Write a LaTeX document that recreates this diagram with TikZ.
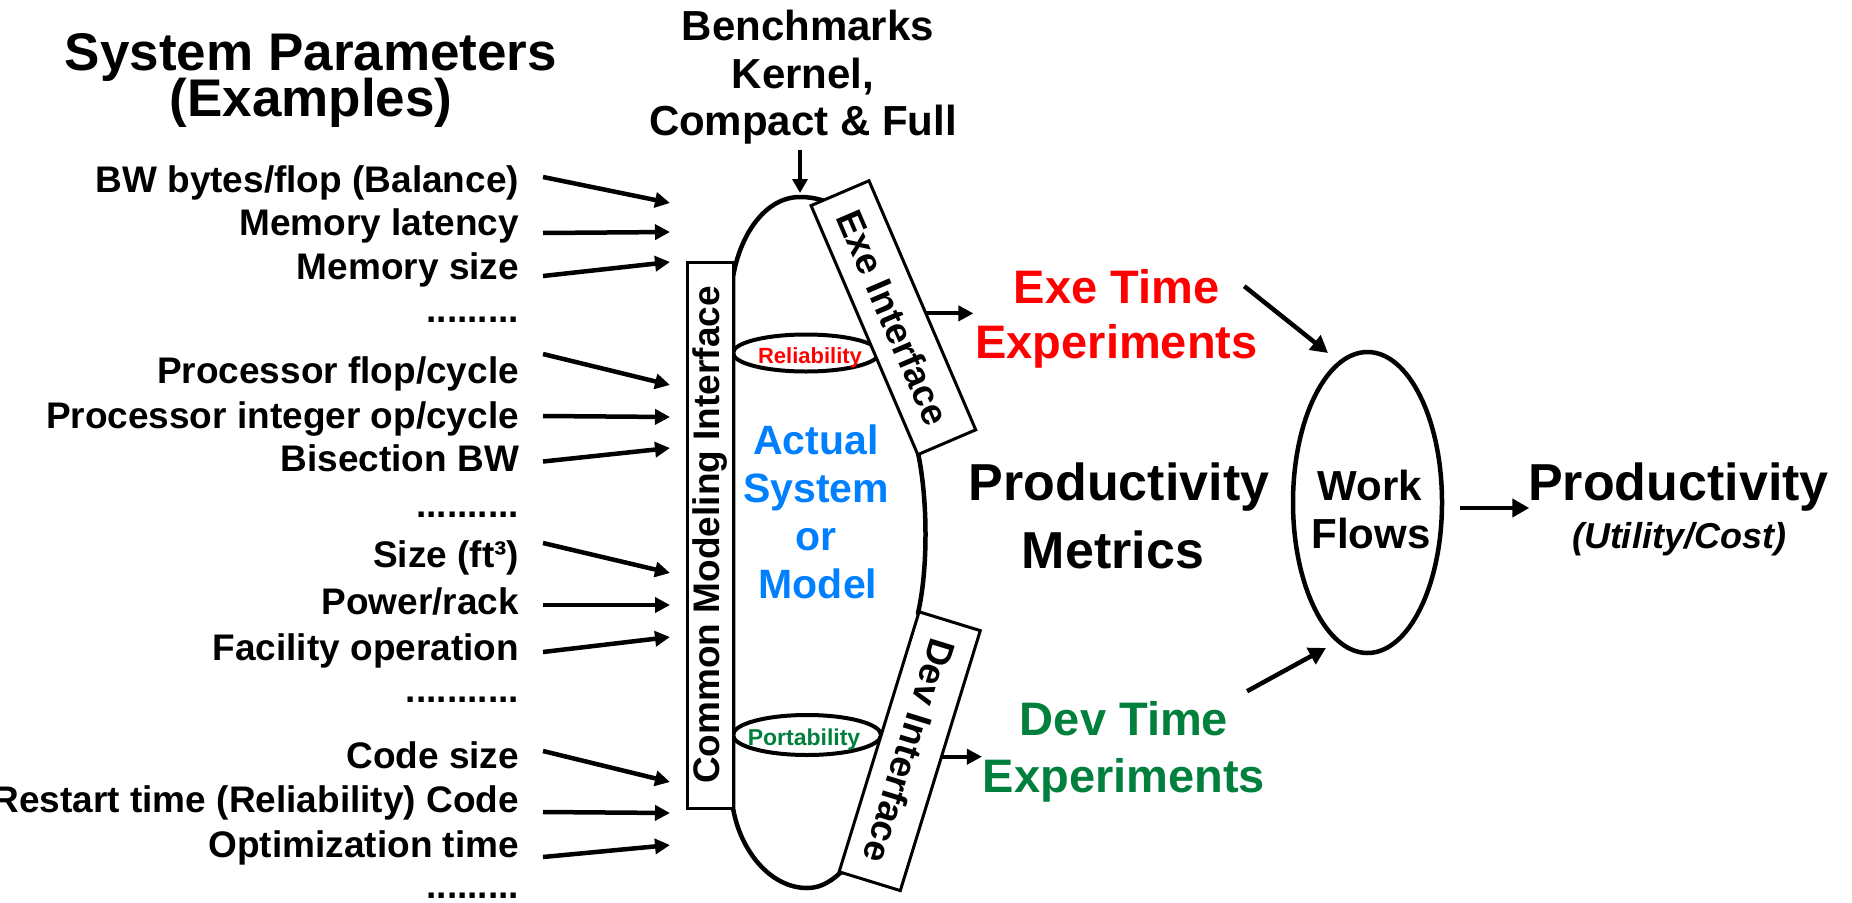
\documentclass[tikz,border=0pt]{standalone}
\usepackage{fontspec}
\setmainfont{Liberation Sans}
\usetikzlibrary{arrows.meta,calc,shapes.geometric}

\definecolor{exered}{RGB}{255,0,0}
\definecolor{devgreen}{RGB}{0,128,60}
\definecolor{sysblue}{RGB}{0,128,255}
\newcommand\fsz[1]{\fontsize{#1}{#1}\selectfont\bfseries}

\begin{document}
\begin{tikzpicture}[x=1pt, y=-1pt,
  txt/.style={anchor=base, inner sep=0pt, outer sep=0pt},
  lbl/.style={anchor=base east, inner sep=0pt, outer sep=0pt, font=\fsz{37},
              text height=27pt, text depth=8pt},
  feed/.style={line width=4.5pt, -{Triangle[length=15pt,width=15pt]}},
  outarrow/.style={line width=4pt, -{Triangle[length=15pt,width=15pt]}},
  flowarrow/.style={line width=4.5pt, -{Triangle[length=17pt,width=18pt]}},
  bencharrow/.style={line width=3.5pt, -{Triangle[length=14pt,width=15pt]}},
  ifacebox/.style={draw, line width=3pt, fill=white, inner sep=0pt, outer sep=0pt,
                   font=\fsz{37}},
  ring/.style={draw, ellipse, line width=4pt, inner sep=0pt, outer sep=0pt},
]
\useasboundingbox (0,0) rectangle (1852,902);

% ---------- title ----------
\node[txt, font=\fsz{53}] (title1) at (311,70)  {System Parameters};
\node[txt, font=\fsz{53}] (title2) at (311,116) {(Examples)};

% ---------- benchmarks ----------
\node[txt, font=\fsz{42}] (bench1) at (808,40)  {Benchmarks};
\node[txt, font=\fsz{42}] (bench2) at (803,88)  {Kernel,};
\node[txt, font=\fsz{42}] (bench3) at (803,135) {Compact \& Full};

% ---------- system / model body ----------
\draw[line width=4.5pt, fill=white, line join=round]
  (733,808) -- (733,277)
  .. controls (740,235) and (765,197) .. (800,197)
  .. controls (815,197) and (828,201) .. (838,208)
  -- (922,440) -- (918,453)
  .. controls (928,500) and (928,570) .. (918,613)
  -- (926,628) -- (856,866) -- (840,873)
  .. controls (828,884) and (818,888) .. (807,888)
  .. controls (770,888) and (740,850) .. (733,808) -- cycle;
\coordinate (systop) at (800,197);

\node[ring, minimum width=146pt, minimum height=37pt] (relring)  at (806,353) {};
\node[ring, minimum width=148pt, minimum height=40pt] (portring) at (807,735) {};
\node[txt, font=\fsz{22}, text=exered]   (reltxt)  at (810,363) {Reliability};
\node[txt, font=\fsz{23}, text=devgreen] (porttxt) at (804,745) {Portability};

\node[txt, font=\fsz{41}, text=sysblue] (act1) at (816,454) {Actual};
\node[txt, font=\fsz{41}, text=sysblue] (act2) at (816,502) {System};
\node[txt, font=\fsz{41}, text=sysblue] (act3) at (816,550) {or};
\node[txt, font=\fsz{41}, text=sysblue] (act4) at (818,598) {Model};

% ---------- interfaces ----------
\node[ifacebox, rotate=90, minimum width=546pt, minimum height=46pt] (cmi)
  at (710,535) {Common Modeling Interface};
\node[ifacebox, rotate=-66.8, minimum width=271pt, minimum height=63pt] (exe)
  at (893.4,317.7) {Exe Interface};
\node[ifacebox, rotate=-107.1, minimum width=272pt, minimum height=64pt] (dev)
  at (909.7,751.2) {Dev Interface};

% ---------- parameter labels ----------
\node[lbl] (l1)  at (519,192) {BW bytes/flop (Balance)};
\node[lbl] (l2)  at (519,235) {Memory latency};
\node[lbl] (l3)  at (519,279) {Memory size};
\node[lbl] (d1)  at (519,322) {.........};
\node[lbl] (l4)  at (519,383) {Processor flop/cycle};
\node[lbl] (l5)  at (519,428) {Processor integer op/cycle};
\node[lbl] (l6)  at (519,471) {Bisection BW};
\node[lbl] (d2)  at (519,517) {..........};
\node[lbl] (l7)  at (519,567) {Size (ft³)};
\node[lbl] (l8)  at (519,614) {Power/rack};
\node[lbl] (l9)  at (519,660) {Facility operation};
\node[lbl] (d3)  at (519,702) {...........};
\node[lbl] (l10) at (519,768) {Code size};
\node[lbl] (l11) at (519,812) {Restart time (Reliability) Code};
\node[lbl] (l12) at (519,857) {Optimization time};
\node[lbl] (d4)  at (519,898) {.........};

% arrow targets in front of the modeling interface
\coordinate (p1)  at (670,203);
\coordinate (p2)  at (670,232);
\coordinate (p3)  at (670,262);
\coordinate (p4)  at (670,385);
\coordinate (p5)  at (670,417);
\coordinate (p6)  at (670,448);
\coordinate (p7)  at (670,573);
\coordinate (p8)  at (670,605);
\coordinate (p9)  at (670,637);
\coordinate (p10) at (670,782);
\coordinate (p11) at (670,813);
\coordinate (p12) at (670,845);

\draw[feed] ([shift={(24,-5.5)}]l1.east)  -- (p1);
\draw[feed] ([shift={(24,7.5)}]l2.east)   -- (p2);
\draw[feed] ([shift={(24,6.5)}]l3.east)   -- (p3);
\draw[feed] ([shift={(24,-19.5)}]l4.east) -- (p4);
\draw[feed] ([shift={(24,-2.5)}]l5.east)  -- (p5);
\draw[feed] ([shift={(24,0)}]l6.east)     -- (p6);
\draw[feed] ([shift={(24,-14.5)}]l7.east) -- (p7);
\draw[feed] ([shift={(24,0.5)}]l8.east)   -- (p8);
\draw[feed] ([shift={(24,1.5)}]l9.east)   -- (p9);
\draw[feed] ([shift={(24,-7.5)}]l10.east) -- (p10);
\draw[feed] ([shift={(24,9.5)}]l11.east)  -- (p11);
\draw[feed] ([shift={(24,9.5)}]l12.east)  -- (p12);

% benchmarks feed the model
\draw[bencharrow] ($(systop |- bench3.south)+(0,6)$) -- ([yshift=4pt]systop);

% ---------- experiments ----------
\node[txt, font=\fsz{47}, text=exered] (exe1) at (1116.5,303) {Exe Time};
\node[txt, font=\fsz{47}, text=exered] (exe2) at (1116.5,358) {Experiments};
\node[txt, font=\fsz{52}] (pm1) at (1119,500) {Productivity};
\node[txt, font=\fsz{52}] (pm2) at (1113,568) {Metrics};
\node[txt, font=\fsz{47}, text=devgreen] (dev1) at (1124,735) {Dev Time};
\node[txt, font=\fsz{47}, text=devgreen] (dev2) at (1124,792) {Experiments};

\coordinate (exeout) at ($(exe.north)!0.065!(exe.north east)$);
\coordinate (devout) at ($(dev.north)!0.03!(dev.north west)$);
\draw[outarrow] (exeout) -- ($(exeout -| exe2.west)+(-2,0)$);
\draw[outarrow] (devout) -- ($(devout -| dev2.west)+(-1,0)$);

% ---------- work flows ----------
\node[draw, ellipse, line width=4.5pt, inner sep=0pt, outer sep=0pt,
      minimum width=149pt, minimum height=301pt] (wf) at (1367.5,502.5) {};
\node[txt, font=\fsz{42}] (wf1) at (1370,500) {Work};
\node[txt, font=\fsz{42}] (wf2) at (1371,548) {Flows};

\draw[flowarrow] ([xshift=25pt]exe1.east) -- ([shift={(-39.5,1)}]wf.north);
\draw[flowarrow] ([shift={(19,-27)}]dev1.east) -- ([shift={(-41.5,-5)}]wf.south);

% ---------- productivity ----------
\node[txt, font=\fsz{52}] (prod) at (1678.5,500) {Productivity};
\node[txt, font=\fontsize{36}{36}\selectfont\bfseries\itshape] (util)
  at (1679,548) {(Utility/Cost)};

\coordinate (wfout) at ([shift={(18,5.5)}]wf.east);
\draw[flowarrow] (wfout) -- ($(wfout -| prod.west)+(1,0)$);
\end{tikzpicture}
\end{document}
